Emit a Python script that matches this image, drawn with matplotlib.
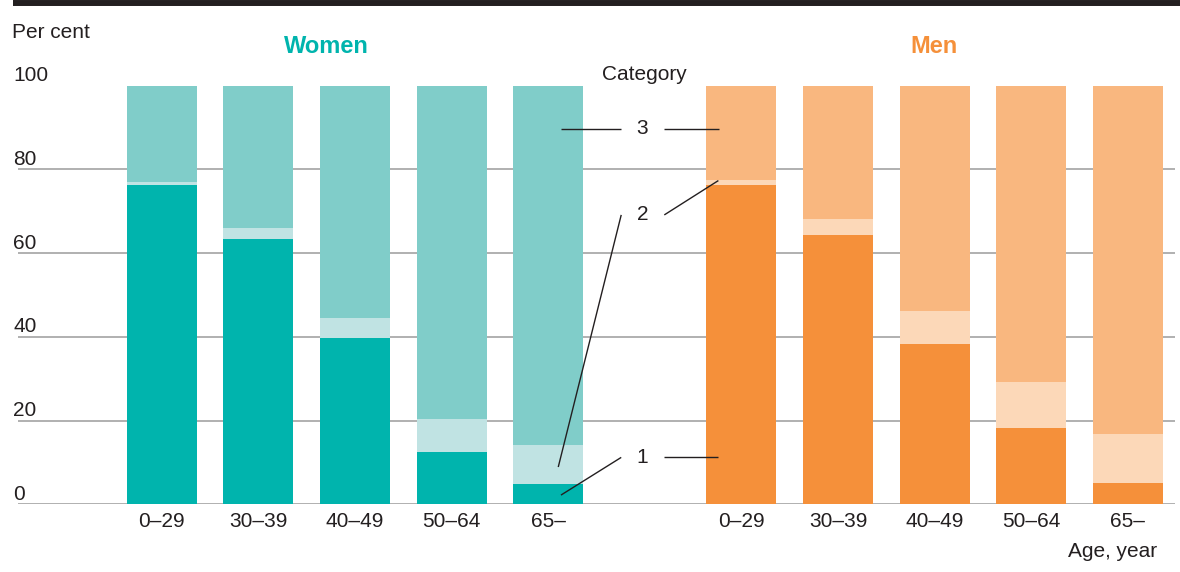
import matplotlib
matplotlib.use("Agg")
import matplotlib.pyplot as plt
from matplotlib.lines import Line2D
from matplotlib.transforms import blended_transform_factory, ScaledTranslation

plt.rcParams['font.family'] = ['Liberation Sans', 'DejaVu Sans']

ages = ['0–29', '30–39', '40–49', '50–64', '65–']
yticks = [0, 20, 40, 60, 80, 100]

women_cat1 = [76.3, 63.4, 39.7, 12.5, 4.9]
women_cat2 = [0.7, 2.6, 4.8, 7.9, 9.3]
women_cat3 = [23.0, 34.0, 55.5, 79.6, 85.8]

men_cat1 = [76.3, 64.4, 38.3, 18.2, 5.1]
men_cat2 = [1.2, 3.8, 7.9, 11.1, 11.7]
men_cat3 = [22.5, 31.8, 53.8, 70.7, 83.2]

teal = ['#00B4AD', '#C0E3E3', '#80CDC9']
orange = ['#F5903A', '#FCD8B8', '#F9B77F']
ink = '#231F20'
grid_c = '#AAAAAA'

W, H, DPI = 1180, 572, 100
fig = plt.figure(figsize=(W / DPI, H / DPI), dpi=DPI)
ax = fig.add_axes([18 / W, 1 - 504.3 / H, (1175 - 18) / W, (504.3 - 85.5) / H])

women_x = [0, 1, 2, 3, 4]
men_x = [6, 7, 8, 9, 10]
bw = 0.725


def stack(xs, c1, c2, c3, cols):
    b2 = [a for a in c1]
    b3 = [a + b for a, b in zip(c1, c2)]
    ax.bar(xs, c1, width=bw, color=cols[0], zorder=2)
    ax.bar(xs, c2, width=bw, bottom=b2, color=cols[1], zorder=2)
    ax.bar(xs, c3, width=bw, bottom=b3, color=cols[2], zorder=2)


stack(women_x, women_cat1, women_cat2, women_cat3, teal)
stack(men_x, men_cat1, men_cat2, men_cat3, orange)

ax.set_xlim(-1.49, 10.49)
ax.set_ylim(0, 100)
for y in yticks:
    ax.axhline(y, color=grid_c, lw=1.3, zorder=1)
for s in ax.spines.values():
    s.set_visible(False)
ax.set_yticks([])
ax.set_xticks(women_x + men_x)
ax.set_xticklabels(ages + ages, fontsize=15, color=ink)
ax.tick_params(axis='x', length=0, pad=5.5)

# y-axis labels sit above their gridlines, left-aligned
ytr = blended_transform_factory(fig.transFigure, ax.transData) + \
    ScaledTranslation(0, 4.5 / DPI, fig.dpi_scale_trans)
for y in yticks:
    ax.text(13 / W, y, str(y), transform=ytr, ha='left', va='baseline',
            fontsize=15, color=ink)

# titles
fig.text(12 / W, 1 - 37.5 / H, 'Per cent', ha='left', va='baseline', fontsize=15, color=ink)
fig.text(326 / W, 1 - 53 / H, 'Women', ha='center', va='baseline', fontsize=17,
         fontweight='bold', color='#00B4AD')
fig.text(934 / W, 1 - 53 / H, 'Men', ha='center', va='baseline', fontsize=17,
         fontweight='bold', color='#F5903A')
fig.text(644 / W, 1 - 80 / H, 'Category', ha='center', va='baseline', fontsize=15, color=ink)
fig.text(1157 / W, 1 - 557 / H, 'Age, year', ha='right', va='baseline', fontsize=15, color=ink)

# category labels with leader lines
ax.text(4.974, 89.8, '3', ha='center', va='center', fontsize=15, color=ink)
ax.text(4.974, 69.1, '2', ha='center', va='center', fontsize=15, color=ink)
ax.text(4.974, 11.2, '1', ha='center', va='center', fontsize=15, color=ink)
leaders = [
    ((4.135, 4.756), (89.7, 89.7)),
    ((5.202, 5.772), (89.7, 89.7)),
    ((4.756, 4.104), (69.1, 8.9)),
    ((5.202, 5.762), (69.1, 77.3)),
    ((4.756, 4.132), (11.2, 2.2)),
    ((5.202, 5.762), (11.2, 11.2)),
]
for xs, ys in leaders:
    ax.plot(xs, ys, color=ink, lw=1.0, zorder=3, solid_capstyle='butt')

# heavy rule across the top
fig.add_artist(Line2D([13 / W, 1.0], [1 - 3 / H, 1 - 3 / H], color=ink, lw=4.3,
                      transform=fig.transFigure, solid_capstyle='butt'))

fig.savefig('out.png', dpi=DPI)
